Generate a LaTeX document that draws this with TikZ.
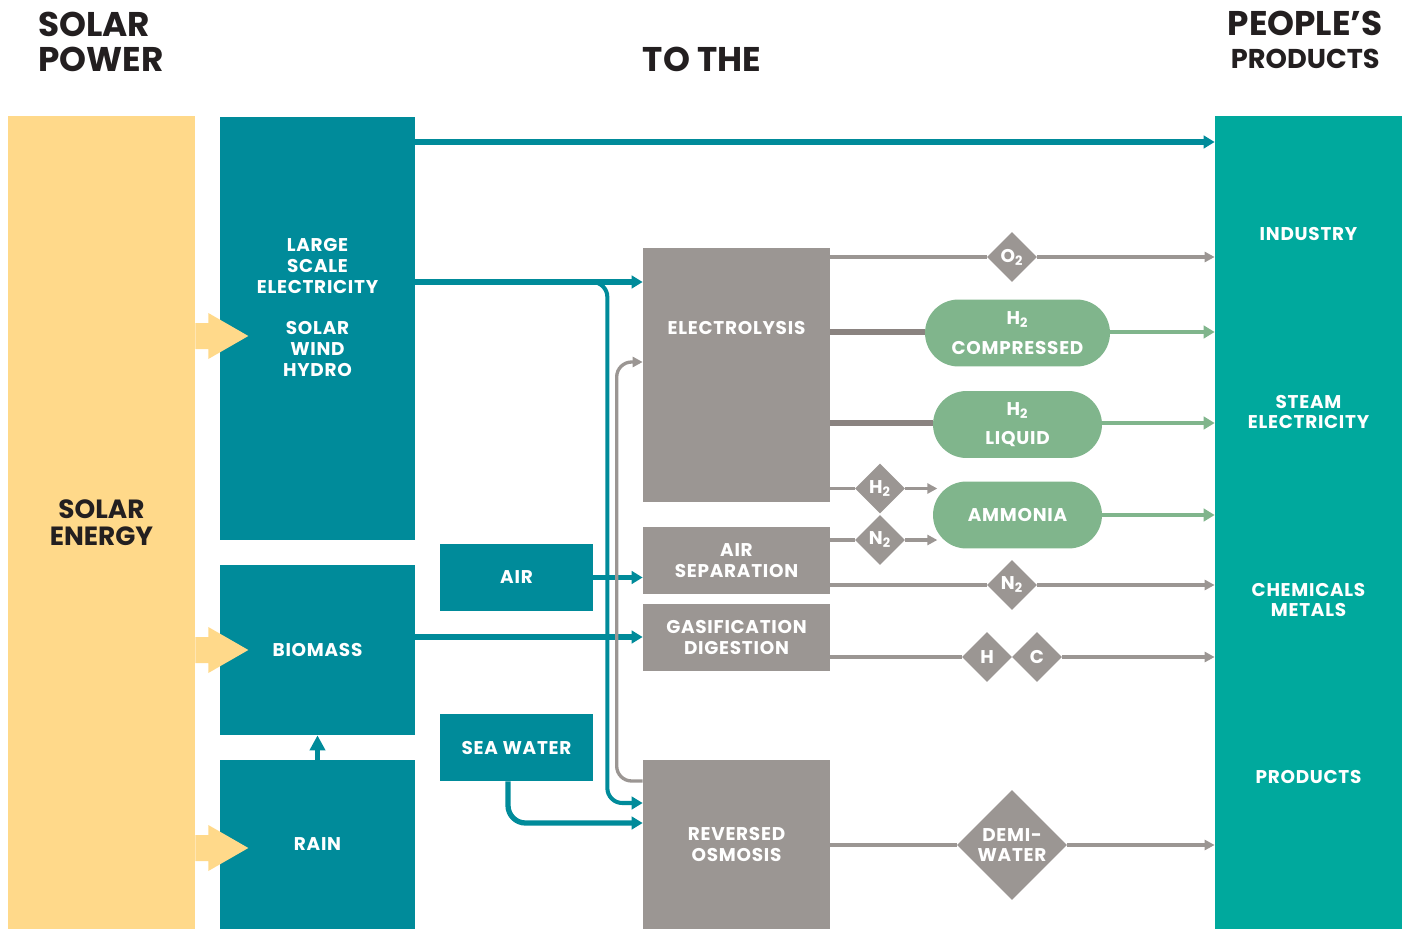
\documentclass[tikz,border=0pt]{standalone}
\usepackage{fontspec}
\setmainfont{Poppins}
\usetikzlibrary{arrows.meta,shapes.geometric}
\definecolor{sunyellow}{RGB}{255,217,138}
\definecolor{powerblue}{RGB}{0,139,154}
\definecolor{procgrey}{RGB}{155,150,147}
\definecolor{pipegrey}{RGB}{138,131,128}
\definecolor{gasgreen}{RGB}{128,181,140}
\definecolor{peopleteal}{RGB}{0,169,157}
\definecolor{titleblack}{RGB}{35,31,32}
\newcommand\boxfont{\fontsize{10.5}{11.9}\selectfont\bfseries\addfontfeatures{LetterSpace=4}}
\newcommand\titlefont{\fontsize{19.5}{20.4}\selectfont\bfseries}

\begin{document}
\begin{tikzpicture}[x=0.02cm,y=-0.02cm]
    \tikzset{box/.style= {rectangle,
                          inner sep=0pt,
                          align=center,
                          text=white,
                          font=\boxfont,
                          minimum width=3.74cm},
             bluebox/.style= {box, fill=powerblue, minimum width=3.9cm},
             smallbox/.style= {box, fill=powerblue, minimum width=3.06cm,
                               minimum height=1.34cm},
             greybox/.style= {box, fill=procgrey},
             pill/.style= {box, fill=gasgreen, minimum height=1.34cm,
                           rounded corners=0.67cm},
             gem/.style= {diamond, fill=procgrey, inner sep=0pt, text=white,
                          font=\boxfont, align=center, minimum size=1cm},
             lbl/.style= {text=white, font=\boxfont, align=center, inner sep=0pt},
             title/.style= {text=titleblack, font=\titlefont, inner sep=0pt},
             bline/.style= {draw=powerblue, line width=3pt},
             gline/.style= {draw=procgrey, line width=1.9pt},
             pipe/.style= {draw=pipegrey, line width=3.5pt},
             gasline/.style= {draw=gasgreen, line width=2.8pt},
             btip/.style= {-{Triangle[length=0.22cm,width=0.25cm]}},
             gtip/.style= {-{Triangle[length=0.2cm,width=0.2cm]}},
            }
    \useasboundingbox (0,0) rectangle (1402,929);
    \path
    (101.5,522.5)  node[box, fill=sunyellow, minimum height=16.26cm,
                        text=titleblack, font=\fontsize{15}{15.3}\selectfont\bfseries] (sun) {SOLAR\\ENERGY}
    (317.5,328.5)  node[bluebox, minimum height=8.46cm] (lse) {}
    (317.5,650)    node[bluebox, minimum height=3.4cm] (biomass) {BIOMASS}
    (317.5,844.5)  node[bluebox, minimum height=3.38cm] (rain) {RAIN}
    (516.5,577.5)  node[smallbox] (air) {AIR}
    (516.5,747.5)  node[smallbox] (sea) {SEA WATER}
    (736.5,375)    node[greybox, minimum height=5.08cm] (elec) {}
    (736.5,560.5)  node[greybox, minimum height=1.34cm] (airsep) {AIR\\SEPARATION}
    (736.5,637.5)  node[greybox, minimum height=1.34cm] (gas) {GASIFICATION\\DIGESTION}
    (736.5,844.5)  node[greybox, minimum height=3.38cm] (ro) {REVERSED\\OSMOSIS}
    (1308.5,522.5) node[box, fill=peopleteal, minimum height=16.26cm] (people) {}
    (1017.5,333)   node[pill, minimum width=3.7cm] (comp) {H\textsubscript{2}\\[5pt]COMPRESSED}
    (1017.5,424.5) node[pill, minimum width=3.38cm] (liq) {H\textsubscript{2}\\[5pt]LIQUID}
    (1017.5,515)   node[pill, minimum width=3.38cm] (amm) {AMMONIA}
    (1012,257)     node[gem] (o2) {O\textsubscript{2}}
    (880,488.5)    node[gem] (h2) {H\textsubscript{2}}
    (880,540)      node[gem] (n2a) {N\textsubscript{2}}
    (1012,585)     node[gem] (n2b) {N\textsubscript{2}}
    (987,657)      node[gem] (hyd) {H}
    (1037,657)     node[gem] (carb) {C}
    (1012,845)     node[gem, minimum size=2.2cm] (demi) {DEMI-\\WATER}
    ;
    % texts on the big boxes
    \node[lbl] (lsetxt) at (317.5,266) {LARGE\\SCALE\\ELECTRICITY};
    \node[lbl] (mixtxt) at (317.5,349) {SOLAR\\WIND\\HYDRO};
    \node[lbl] (electxt) at (736.5,328) {ELECTROLYSIS};
    \node[lbl] (ind) at (1308.5,234) {INDUSTRY};
    \node[lbl] (steam) at (1308.5,412) {STEAM\\ELECTRICITY};
    \node[lbl] (chem) at (1308.5,600) {CHEMICALS\\METALS};
    \node[lbl] (prod) at (1308.5,777) {PRODUCTS};
    % titles
    \node[title, align=left, anchor=base west] (solpow) at (38,72) {SOLAR\\POWER};
    \node[title, anchor=base] (tothe) at (702,72) {TO THE};
    \node[title, anchor=base east] (peop) at (1383,36) {PEOPLE’S};
    \node[title, anchor=base east, font=\fontsize{15.5}{16}\selectfont\bfseries] (prodtitle) at (1380,69) {PRODUCTS};
    % sun arrows
    \foreach \y in {336,650,848}
        \fill[sunyellow] (sun.east |- 0,\y) ++(0,-13) -- ++(13,0) -- ++(0,-10)
            -- ++(40,23) -- ++(-40,23) -- ++(0,-10) -- ++(-13,0) -- cycle;
    % power lines
    \draw[bline, btip] (lse.east |- 0,142) -- (people.west |- 0,142);
    \draw[bline, btip] (lse.east |- 0,282) -- (elec.west |- 0,282);
    \draw[bline, btip, line width=2.3pt, rounded corners=0.3cm]
        (lse.east |- 0,282) -- ++(192,0) |- (ro.west |- 0,803);
    \draw[bline, btip] (air) -- (airsep.west |- air);
    \draw[bline, btip] (biomass.east |- 0,637) -- (gas.west |- 0,637);
    \draw[bline, btip, rounded corners=0.35cm]
        ([xshift=-0.17cm]sea.south) |- (ro.west |- 0,823);
    \draw[bline, -{Triangle[length=0.3cm,width=0.3cm]}] (rain.north) -- (biomass.south);
    \draw[gline, gtip, rounded corners=0.3cm]
        (ro.west |- 0,781) -- ++(-26,0) |- (elec.west |- 0,362);
    % products
    \draw[gline] (elec.east |- o2) -- (o2.west);
    \draw[gline, gtip] (o2.east) -- (people.west |- o2);
    \draw[pipe] (elec.east |- 0,332) -- (comp.west |- 0,332);
    \draw[gasline, btip] (comp.east |- 0,332) -- (people.west |- 0,332);
    \draw[pipe] (elec.east |- 0,423) -- (liq.west |- 0,423);
    \draw[gasline, btip] (liq.east |- 0,423) -- (people.west |- 0,423);
    \draw[gline] (elec.east |- h2) -- (h2.west);
    \draw[gline, gtip] (h2.east) -- ++(32,0);
    \draw[gline] (airsep.east |- n2a) -- (n2a.west);
    \draw[gline, gtip] (n2a.east) -- ++(32,0);
    \draw[gasline, btip] (amm.east) -- (people.west |- amm);
    \draw[gline] (airsep.east |- n2b) -- (n2b.west);
    \draw[gline, gtip] (n2b.east) -- (people.west |- n2b);
    \draw[gline] (gas.east |- hyd) -- (hyd.west);
    \draw[gline, gtip] (carb.east) -- (people.west |- carb);
    \draw[gline] (ro.east |- demi) -- (demi.west);
    \draw[gline, gtip] (demi.east) -- (people.west |- demi);
\end{tikzpicture}
\end{document}
